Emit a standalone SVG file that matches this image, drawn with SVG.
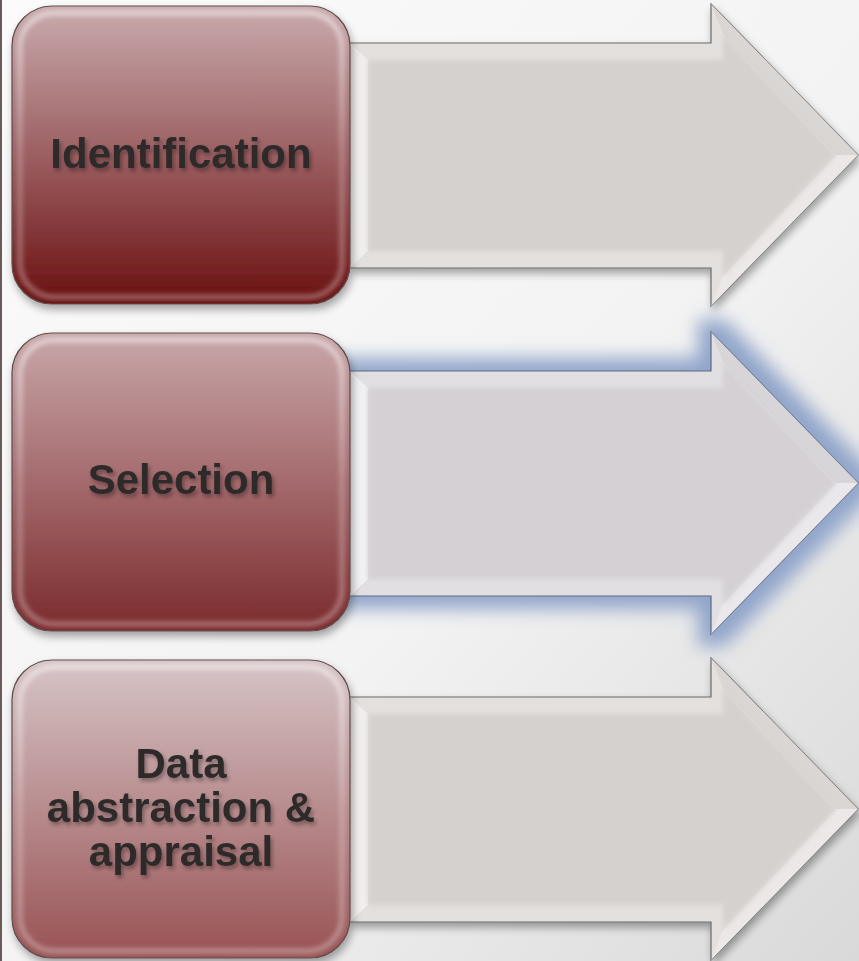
<svg xmlns="http://www.w3.org/2000/svg" width="859" height="961" viewBox="0 0 859 961">
<defs>
<linearGradient id="bg" x1="0" y1="0" x2="1" y2="1">
<stop offset="0" stop-color="#fbfbfb"/>
<stop offset="0.55" stop-color="#f3f3f3"/>
<stop offset="1" stop-color="#d9d9d9"/>
</linearGradient>
<linearGradient id="b1" x1="0" y1="0" x2="0" y2="1">
<stop offset="0" stop-color="#c9abad"/>
<stop offset="0.5" stop-color="#9c5f62"/>
<stop offset="1" stop-color="#6a1010"/>
</linearGradient>
<linearGradient id="b2" x1="0" y1="0" x2="0" y2="1">
<stop offset="0" stop-color="#c8a7a9"/>
<stop offset="0.5" stop-color="#a46a6d"/>
<stop offset="1" stop-color="#7a2a2c"/>
</linearGradient>
<linearGradient id="b3" x1="0" y1="0" x2="0" y2="1">
<stop offset="0" stop-color="#d6c4c6"/>
<stop offset="0.5" stop-color="#b88c8e"/>
<stop offset="1" stop-color="#985254"/>
</linearGradient>
<linearGradient id="hl" x1="0" y1="0" x2="0" y2="1">
<stop offset="0" stop-color="#ffffff" stop-opacity="0.55"/>
<stop offset="0.5" stop-color="#ffffff" stop-opacity="0.25"/>
<stop offset="1" stop-color="#ffffff" stop-opacity="0.35"/>
</linearGradient>
<filter id="sh" x="-10%" y="-10%" width="125%" height="125%">
<feGaussianBlur in="SourceAlpha" stdDeviation="4"/>
<feOffset dx="2" dy="5" result="o"/>
<feComponentTransfer><feFuncA type="linear" slope="0.35"/></feComponentTransfer>
<feMerge><feMergeNode/><feMergeNode in="SourceGraphic"/></feMerge>
</filter>
<filter id="tsh" x="-10%" y="-20%" width="130%" height="160%">
<feGaussianBlur in="SourceAlpha" stdDeviation="2"/>
<feOffset dx="2" dy="3" result="o"/>
<feComponentTransfer><feFuncA type="linear" slope="0.35"/></feComponentTransfer>
<feMerge><feMergeNode/><feMergeNode in="SourceGraphic"/></feMerge>
</filter>
<filter id="soft" x="-5%" y="-5%" width="110%" height="110%">
<feGaussianBlur stdDeviation="2.5"/>
</filter>
<filter id="glow" x="-15%" y="-25%" width="130%" height="150%">
<feMorphology operator="dilate" radius="13"/>
<feGaussianBlur stdDeviation="9"/>
</filter>
<path id="arrow" d="M350,43 L711,43 L711,4 L858,155 L711,306 L711,268 L350,268 Z"/>
<path id="inner" d="M368,60 L723,60 L723,34 L836,155 L723,276 L723,251 L368,251 Z"/>
</defs>
<style>
.lbl{font-family:"Liberation Sans",Arial,sans-serif;font-weight:bold;font-size:42px;fill:#2f2b2b;text-anchor:middle}
.box{stroke:#5e4a4a;stroke-width:1.2}
.aout{stroke:#6a6a6a;stroke-width:1.2}
</style>
<rect width="859" height="961" fill="url(#bg)"/>
<rect x="0" y="0" width="2" height="961" fill="#6b5a5a"/>

<g id="connectors">
<g id="arrow1" filter="url(#sh)">
<use href="#arrow" fill="#e3e0de" class="aout"/>
<polygon points="711,4 858,155 836,155 723,34" fill="#d9d6d4"/>
<polygon points="858,155 711,306 723,276 836,155" fill="#ebe8e7"/>
<polygon points="350,43 368,60 368,251 350,268" fill="#f1efee"/>
<use href="#inner" fill="#d5d1ce" filter="url(#soft)"/>
</g>
<g id="arrow2">
<use href="#arrow" transform="translate(0,328)" fill="#92a6cb" filter="url(#glow)"/>
<g transform="translate(0,328)">
<use href="#arrow" fill="#e2dfe2" stroke="#5d6a80" stroke-width="1.2"/>
<polygon points="711,4 858,155 836,155 723,34" fill="#d8d5d8"/>
<polygon points="858,155 711,306 723,276 836,155" fill="#eae8ea"/>
<polygon points="350,43 368,60 368,251 350,268" fill="#f1f0f2"/>
<use href="#inner" fill="#d4d0d4" filter="url(#soft)"/>
</g>
</g>
<g id="arrow3" transform="translate(0,654)" filter="url(#sh)">
<use href="#arrow" fill="#e3e0de" class="aout"/>
<polygon points="711,4 858,155 836,155 723,34" fill="#d9d6d4"/>
<polygon points="858,155 711,306 723,276 836,155" fill="#ebe8e7"/>
<polygon points="350,43 368,60 368,251 350,268" fill="#f1efee"/>
<use href="#inner" fill="#d5d1ce" filter="url(#soft)"/>
</g>
</g>

<g id="node1">
<rect x="12" y="6" width="338" height="298" rx="40" fill="url(#b1)" class="box" filter="url(#sh)"/>
<rect x="20" y="13" width="322" height="284" rx="34" fill="none" stroke="url(#hl)" stroke-width="5" filter="url(#soft)"/>
<text x="181" y="168" class="lbl" filter="url(#tsh)">Identification</text>
</g>
<g id="node2">
<rect x="12" y="333" width="338" height="298" rx="40" fill="url(#b2)" class="box" filter="url(#sh)"/>
<rect x="20" y="340" width="322" height="284" rx="34" fill="none" stroke="url(#hl)" stroke-width="5" filter="url(#soft)"/>
<text x="181" y="494" class="lbl" filter="url(#tsh)">Selection</text>
</g>
<g id="node3">
<rect x="12" y="660" width="338" height="298" rx="40" fill="url(#b3)" class="box" filter="url(#sh)"/>
<rect x="20" y="667" width="322" height="284" rx="34" fill="none" stroke="url(#hl)" stroke-width="5" filter="url(#soft)"/>
<text class="lbl" filter="url(#tsh)"><tspan x="181" y="778">Data</tspan><tspan x="181" y="822">abstraction &amp;</tspan><tspan x="181" y="866">appraisal</tspan></text>
</g>
</svg>
